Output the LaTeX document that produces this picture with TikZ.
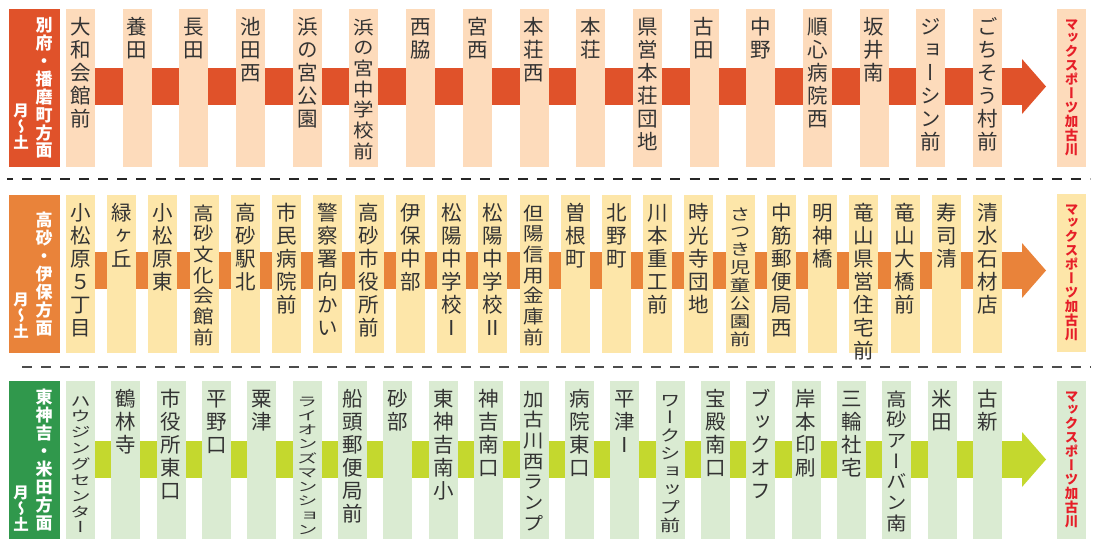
\documentclass[tikz,border=0pt]{standalone}
\usepackage{fontspec}
\usepackage{graphicx}
\usetikzlibrary{arrows.meta, positioning, backgrounds}
\newfontfamily\jp[RawFeature=+vert]{Noto Sans CJK JP}

\definecolor{redA}{HTML}{E0522A}
\definecolor{peachA}{HTML}{FDDBBB}
\definecolor{orangeB}{HTML}{E9833A}
\definecolor{yellowB}{HTML}{FDE6A9}
\definecolor{limeC}{HTML}{C4D82E}
\definecolor{greenC}{HTML}{30984C}
\definecolor{mintC}{HTML}{DAEBD2}
\definecolor{destred}{HTML}{E61E28}
\definecolor{stoptext}{HTML}{333333}

%senkrechter Text, #1 = Stauchung
\newcommand\tate[2][1]{\vtop{\baselineskip=#1\baselineskip
  \lineskiplimit=-\maxdimen \def\tatesq{#1}\tateloop#2\relax}}
\def\tateloop#1{\ifx#1\relax\else%
  \hbox to 1em{\hss\scalebox{1}[\tatesq]{#1}\hss}\expandafter\tateloop\fi}

\begin{document}
\begin{tikzpicture}[x=1pt,y=-1pt,
  stop/.style={inner sep=0pt, minimum width=29pt, text height=25pt, text depth=133pt,
    text=stoptext, font=\jp\fontsize{20.5}{23}\selectfont},
  stopA/.style={stop, fill=peachA},
  stopB/.style={stop, fill=yellowB},
  stopC/.style={stop, fill=mintC},
  route/.style={inner sep=0pt, minimum width=51pt, minimum height=158pt},
  routename/.style={inner sep=0pt, text=white, font=\jp\bfseries\fontsize{17}{17.9}\selectfont},
  routedays/.style={inner sep=0pt, anchor=south, text=white, font=\jp\bfseries\fontsize{15.5}{16.2}\selectfont},
  dest/.style={stop, text height=20pt, text depth=138pt, text=destred,
    font=\jp\bfseries\fontsize{13.5}{13.9}\selectfont},
  bar/.style={line width=37pt, -{Triangle[length=24pt, width=55pt, line width=0pt]}},
  sepline/.style={line width=2pt, dash pattern=on 10pt off 9.07pt}]
\useasboundingbox (0,0) rectangle (1099,538);

%Linie 1
\node (la) [route, fill=redA] at (34.5,88) {};
\node (la1) [routename] at ([xshift=9.5pt]la.center) {\tate{別府・播磨町方面}};
\node (la2) [routedays] at ([xshift=-13.5pt,yshift=17.5pt]la.south) {\tate{月〜土}};
\begin{scope}[node distance=56.69pt]
\node (a1) [stopA] at (80.5,88) {\tate{大和会館前}};
\node (a2) [stopA, right of= a1] {\tate{養田}};
\node (a3) [stopA, right of= a2] {\tate{長田}};
\node (a4) [stopA, right of= a3] {\tate{池田西}};
\node (a5) [stopA, right of= a4] {\tate{浜の宮公園}};
\node (a6) [stopA, right of= a5] {\tate[.9]{浜の宮中学校前}};
\node (a7) [stopA, right of= a6] {\tate{西脇}};
\node (a8) [stopA, right of= a7] {\tate{宮西}};
\node (a9) [stopA, right of= a8] {\tate{本荘西}};
\node (a10) [stopA, right of= a9] {\tate{本荘}};
\node (a11) [stopA, right of= a10] {\tate{県営本荘団地}};
\node (a12) [stopA, right of= a11] {\tate{古田}};
\node (a13) [stopA, right of= a12] {\tate{中野}};
\node (a14) [stopA, right of= a13] {\tate{順心病院西}};
\node (a15) [stopA, right of= a14] {\tate{坂井南}};
\node (a16) [stopA, right of= a15] {\tate{ジョーシン前}};
\node (a17) [stopA, right of= a16] {\tate{ごちそう村前}};
\end{scope}
\node (ma) [dest, fill=peachA] at (1071.5,88) {\tate{マックスポーツ加古川}};
\coordinate (aend) at (1046,86.5);

%Linie 2
\node (lb) [route, fill=orangeB] at (34.5,274) {};
\node (lb1) [routename] at ([xshift=9.5pt]lb.center) {\tate{高砂・伊保方面}};
\node (lb2) [routedays] at ([xshift=-13.5pt,yshift=14.5pt]lb.south) {\tate{月〜土}};
\begin{scope}[node distance=41.23pt]
\node (b1) [stopB] at (80.5,274) {\tate{小松原５丁目}};
\node (b2) [stopB, right of= b1] {\tate{緑ヶ丘}};
\node (b3) [stopB, right of= b2] {\tate{小松原東}};
\node (b4) [stopB, right of= b3] {\tate[.9]{高砂文化会館前}};
\node (b5) [stopB, right of= b4] {\tate{高砂駅北}};
\node (b6) [stopB, right of= b5] {\tate{市民病院前}};
\node (b7) [stopB, right of= b6] {\tate{警察署向かい}};
\node (b8) [stopB, right of= b7] {\tate{高砂市役所前}};
\node (b9) [stopB, right of= b8] {\tate{伊保中部}};
\node (b10) [stopB, right of= b9] {\tate{松陽中学校Ⅰ}};
\node (b11) [stopB, right of= b10] {\tate{松陽中学校Ⅱ}};
\node (b12) [stopB, right of= b11] {\tate[.9]{但陽信用金庫前}};
\node (b13) [stopB, right of= b12] {\tate{曽根町}};
\node (b14) [stopB, right of= b13] {\tate{北野町}};
\node (b15) [stopB, right of= b14] {\tate{川本重工前}};
\node (b16) [stopB, right of= b15] {\tate{時光寺団地}};
\node (b17) [stopB, right of= b16] {\tate[.78]{さつき児童公園前}};
\node (b18) [stopB, right of= b17] {\tate{中筋郵便局西}};
\node (b19) [stopB, right of= b18] {\tate{明神橋}};
\node (b20) [stopB, right of= b19] {\tate{竜山県営住宅前}};
\node (b21) [stopB, right of= b20] {\tate{竜山大橋前}};
\node (b22) [stopB, right of= b21] {\tate{寿司清}};
\node (b23) [stopB, right of= b22] {\tate{清水石材店}};
\end{scope}
\node (mb) [dest, fill=yellowB] at (1071.5,273) {\tate{マックスポーツ加古川}};
\coordinate (bend) at (1046,270.5);

%Linie 3
\node (lc) [route, fill=greenC] at (34.5,460) {};
\node (lc1) [routename] at ([xshift=9.5pt]lc.center) {\tate{東神吉・米田方面}};
\node (lc2) [routedays] at ([xshift=-13.5pt,yshift=7.5pt]lc.south) {\tate{月〜土}};
\begin{scope}[node distance=45.35pt]
\node (c1) [stopC] at (80.5,460) {\tate[.69]{ハウジングセンター}};
\node (c2) [stopC, right of= c1] {\tate{鶴林寺}};
\node (c3) [stopC, right of= c2] {\tate{市役所東口}};
\node (c4) [stopC, right of= c3] {\tate{平野口}};
\node (c5) [stopC, right of= c4] {\tate{粟津}};
\node (c6) [stopC, right of= c5] {\tate[.62]{ライオンズマンション}};
\node (c7) [stopC, right of= c6] {\tate{船頭郵便局前}};
\node (c8) [stopC, right of= c7] {\tate{砂部}};
\node (c9) [stopC, right of= c8] {\tate{東神吉南小}};
\node (c10) [stopC, right of= c9] {\tate{神吉南口}};
\node (c11) [stopC, right of= c10] {\tate[.9]{加古川西ランプ}};
\node (c12) [stopC, right of= c11] {\tate{病院東口}};
\node (c13) [stopC, right of= c12] {\tate{平津Ⅰ}};
\node (c14) [stopC, right of= c13] {\tate[.78]{ワークショップ前}};
\node (c15) [stopC, right of= c14] {\tate{宝殿南口}};
\node (c16) [stopC, right of= c15] {\tate{ブックオフ}};
\node (c17) [stopC, right of= c16] {\tate{岸本印刷}};
\node (c18) [stopC, right of= c17] {\tate{三輪社宅}};
\node (c19) [stopC, right of= c18] {\tate[.9]{高砂アーバン南}};
\node (c20) [stopC, right of= c19] {\tate{米田}};
\node (c21) [stopC, right of= c20] {\tate{古新}};
\end{scope}
\node (mc) [dest, fill=mintC] at (1071.5,460) {\tate{マックスポーツ加古川}};
\coordinate (cend) at (1046,459.5);

%Pfeile
\begin{scope}[on background layer]
\draw[bar, redA] (a1 |- aend) -- (aend);
\draw[bar, orangeB] (b1 |- bend) -- (bend);
\draw[bar, limeC] (c1 |- cend) -- (cend);
\end{scope}

%Trennlinien
\draw[sepline, black!85, dash phase=4pt] (7,179) -- (1090,179);
\draw[sepline, black!70] (22,367) -- (1090,367);
\end{tikzpicture}
\end{document}
